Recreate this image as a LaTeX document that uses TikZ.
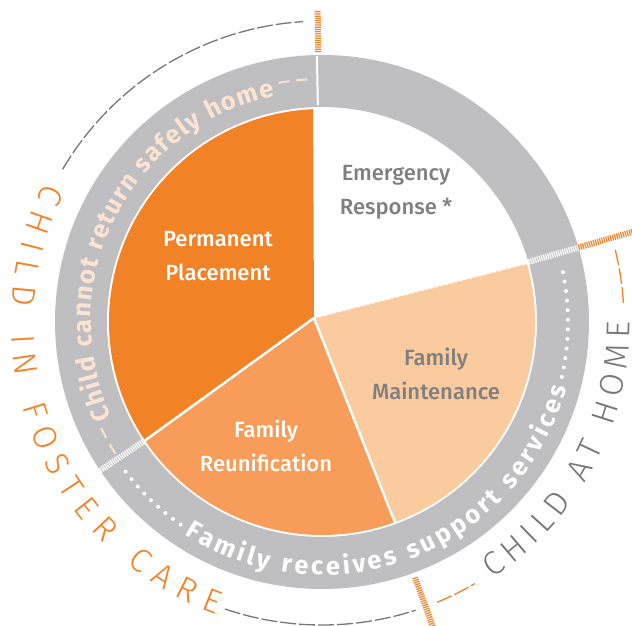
\documentclass[tikz,border=0pt]{standalone}
\usepackage{fontspec}
\setmainfont{Fira Sans}
\newfontfamily\labelfont{Fira Sans Medium}
\newfontfamily\ringfont{Fira Sans Bold}
\newfontfamily\thinfont{Fira Sans Light}
\usetikzlibrary{decorations.text}
\definecolor{orangeA}{HTML}{F28226}
\definecolor{orangeB}{HTML}{F79C59}
\definecolor{peach}{HTML}{FBCBA0}
\definecolor{ringgray}{HTML}{BFBFC1}
\definecolor{labelgray}{HTML}{7F7F7F}
\definecolor{cream}{HTML}{FCE4D2}
\definecolor{outergray}{HTML}{777777}
\tikzset{
  sectorlabel/.style={align=center, font=\labelfont\fontsize{22}{34}\selectfont},
  ladder/.style={line width=6pt, dash pattern=on 1.2pt off 1pt},
  outerdash/.style={line width=1.3pt, dash pattern=on 16pt off 3pt},
  creamdash/.style={cream, line width=2pt, dash pattern=on 11pt off 7pt},
  dotline/.style={white, line width=4pt, line cap=round, dash pattern=on 0pt off 9.6pt},
}
\begin{document}
\begin{tikzpicture}[x=1pt,y=1pt]
\useasboundingbox (0,0) rectangle (632,626);
\begin{scope}[shift={(322,304)}]
  \coordinate (ctr) at (0,0);
  \coordinate (hub) at (-8,4);
  % gray ring
  \fill[ringgray, even odd rule] (ctr) circle[radius=267] (ctr) circle[radius=215];
  % sectors
  \fill[orangeA] (hub) -- (92.4:213) arc[start angle=92.4, end angle=213.8, radius=213] -- cycle;
  \fill[orangeB] (hub) -- (213.8:213) arc[start angle=213.8, end angle=290, radius=213] -- cycle;
  \fill[peach] (hub) -- (290:213) arc[start angle=290, end angle=375.9, radius=213] -- cycle;
  % separators
  \draw[white, line width=2.5pt] (hub) -- (213.8:213);
  \draw[white, line width=2.5pt] (hub) -- (290:213);
  \draw[white, line width=1.2pt, dash pattern=on 3pt off 2pt] (hub) -- (15.9:213);
  % separators across the ring
  \draw[white, line width=2pt] (91.1:217) -- (91.1:266);
  \draw[white, ladder] (16.2:213) -- (16.2:267);
  \draw[white, ladder] (213.8:213) -- (213.8:267);
  % orange ladders outside
  \draw[orangeA, ladder] (16.2:267) -- (16.2:330);
  \draw[orangeA, ladder] (90.8:270) -- (90.8:312);
  \draw[orangeA, ladder] (290:272) -- (290:335);
  % outer dashed arcs
  \draw[outergray, outerdash] (149.5:301) arc[start angle=149.5, end angle=93.6, radius=301];
  \draw[outergray, outerdash] (251.3:303) arc[start angle=251.3, end angle=288, radius=303];
  \draw[orangeA, outerdash] (292.3:303) arc[start angle=292.3, end angle=300.3, radius=303];
  \draw[orangeA, outerdash] (3.6:302) arc[start angle=3.6, end angle=14, radius=302];
  % cream dashes around ring text
  \draw[creamdash] (100.3:243) arc[start angle=100.3, end angle=93.5, radius=243];
  \draw[creamdash] (205.7:245) arc[start angle=205.7, end angle=212.5, radius=245];
  % white dots around ring text
  \draw[dotline] (217.3:247) arc[start angle=217.3, end angle=236, radius=247];
  \draw[dotline] (347.1:246) arc[start angle=347.1, end angle=372.2, radius=246];
  % ring texts
  \path[decorate, decoration={text along path, text align=fit to path,
      text={|\ringfont\fontsize{25.5}{25.5}\selectfont\color{cream}|Child cannot return safely home}}]
      (204.4:231) arc[start angle=204.4, end angle=101.8, radius=231];
  \path[decorate, decoration={text along path, text align=fit to path,
      text={|\ringfont\fontsize{25.5}{25.5}\selectfont\color{white}|Family receives support services}}]
      (237:253) arc[start angle=237, end angle=345, radius=253];
  % outer texts
  \path[decorate, decoration={text along path, text align=fit to path,
      text={|\thinfont\fontsize{33}{33}\selectfont\color{orangeA}|CHILD IN FOSTER CARE}}]
      (153.3:311) arc[start angle=153.3, end angle=250.2, radius=311];
  \path[decorate, decoration={text along path, text align=fit to path,
      text={|\thinfont\fontsize{33}{33}\selectfont\color{outergray}|CHILD AT HOME}}]
      (303.6:308) arc[start angle=303.6, end angle=360, radius=308];
\end{scope}
% sector labels
\node[sectorlabel, text=labelgray] (emergency) at (396,434) {Emergency\\Response *};
\node[sectorlabel, text=white] (permanent) at (218,370) {Permanent\\Placement};
\node[sectorlabel, text=labelgray] (maintenance) at (436,252) {Family\\Maintenance};
\node[sectorlabel, text=white] (reunification) at (266,180) {Family\\Reunification};
\end{tikzpicture}
\end{document}
